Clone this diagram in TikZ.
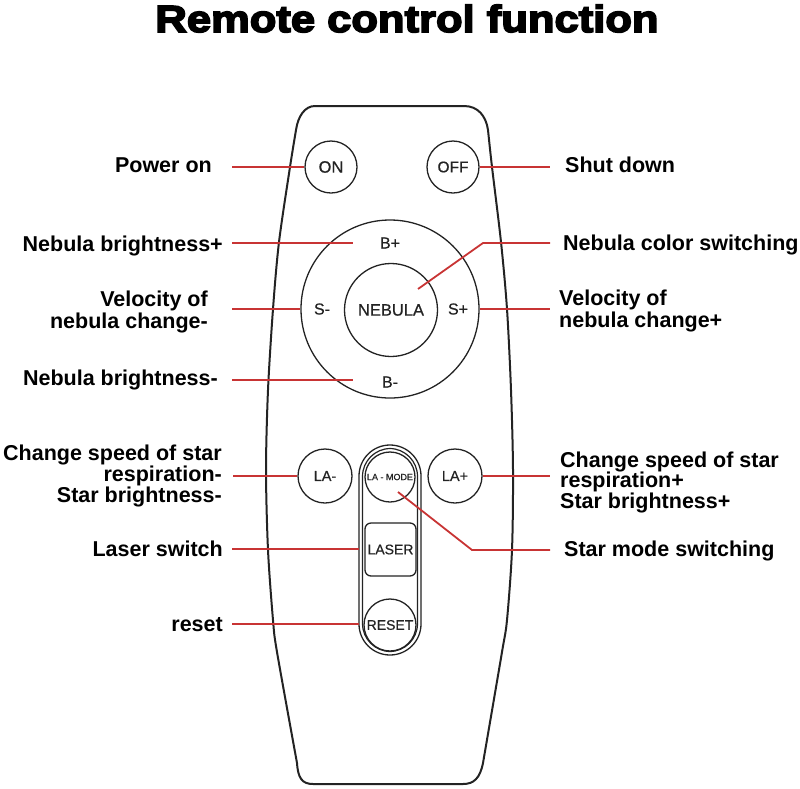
\documentclass[tikz,border=0pt]{standalone}
\usepackage{fontspec}
\setmainfont{Liberation Sans}
\newfontfamily\titlefont[FakeStretch=1.155,FakeBold=4.5]{Liberation Sans Bold}
\newfontfamily\btnfont[FakeBold=0.6]{Liberation Sans}
\definecolor{lnred}{RGB}{200,52,52}
\definecolor{ink}{RGB}{35,35,35}
\begin{document}
\begin{tikzpicture}[x=1pt,y=-1pt,
  lbl/.style={font=\fontsize{21.5}{21.5}\selectfont\bfseries, inner sep=0pt},
  btn/.style={draw=ink, circle, line width=1.3pt, inner sep=0pt, text=ink, font=\btnfont\fontsize{15.5}{16}\selectfont},
  btxt/.style={inner sep=0pt, text=ink, font=\btnfont\fontsize{16}{16}\selectfont},
  redln/.style={draw=lnred, line width=1.8pt},
  bodyln/.style={draw=ink, line width=2pt}]
\useasboundingbox (0,0) rectangle (800,788);
% title
\node[inner sep=0pt, anchor=base, font=\titlefont\fontsize{37.7}{38}\selectfont] (title) at (407,32) {Remote control function};
% body
\draw[bodyln] (315,106) -- (464,106) .. controls (478,106) and (486,116) .. (488,130)
  -- plot[smooth] coordinates {(488,130) (492,167) (501,242) (507,309) (511,390) (513,470) (512,550) (507,620) (502,652) (483,763)}
  .. controls (480,778) and (474,784) .. (463,784) -- (313,784)
  .. controls (302,784) and (298,778) .. (297,763)
  -- plot[smooth] coordinates {(297,763) (277,652) (273,620) (268,550) (266,470) (268,390) (273,309) (279,242) (290,167) (296,130)}
  .. controls (298,116) and (305,106) .. (315,106) -- cycle;
% buttons top
\node[btn, minimum size=52pt, font=\btnfont\fontsize{16.5}{17}\selectfont] (on) at (331,167) {ON};
\node[btn, minimum size=52pt] (off) at (453,167) {OFF};
% nebula ring
\node[btn, minimum size=178pt] (ring) at (390,309) {};
\node[btn, minimum size=93pt, font=\btnfont\fontsize{16.5}{17}\selectfont] (neb) at (391,310) {NEBULA};
\node[btxt] (bp) at (390,243) {B+};
\node[btxt] (bm) at (390,382) {B-};
\node[btxt] (sm) at (322,309) {S-};
\node[btxt] (sp) at (458,309) {S+};
% lower buttons
\node[btn, minimum size=54pt, font=\btnfont\fontsize{14.5}{15}\selectfont] (lam) at (325,476) {LA-};
\node[btn, minimum size=54pt, font=\btnfont\fontsize{14.5}{15}\selectfont] (lap) at (455,476) {LA+};
\draw[draw=ink, line width=1.3pt, rounded corners=31pt] (359,445) rectangle (421,655);
\draw[draw=ink, line width=1.2pt, rounded corners=28pt] (362.5,448.5) rectangle (417.5,651.5);
\node[btn, minimum size=50pt, font=\btnfont\fontsize{9}{9}\selectfont] (mode) at (390,477) {LA - MODE};
\node[draw=ink, line width=1.3pt, rounded corners=6pt, minimum width=51pt, minimum height=53pt, inner sep=0pt, text=ink, font=\btnfont\fontsize{14}{14}\selectfont] (laser) at (390.5,549.5) {LASER};
\node[btn, minimum size=52pt, font=\btnfont\fontsize{14}{14}\selectfont] (reset) at (390,625) {RESET};
% left labels
\node[lbl, anchor=base east] (lpon) at (212,172) {Power on};
\node[lbl, anchor=base east] (lbp) at (223,251) {Nebula brightness+};
\node[lbl, anchor=base east] (lvm1) at (208,306) {Velocity of};
\node[lbl, anchor=base east] (lvm2) at (208,328) {nebula change-};
\node[lbl, anchor=base east] (lbm) at (218,385) {Nebula brightness-};
\node[lbl, anchor=base east] (llam1) at (222,460) {Change speed of star};
\node[lbl, anchor=base east] (llam2) at (222,481) {respiration-};
\node[lbl, anchor=base east] (llam3) at (222,502) {Star brightness-};
\node[lbl, anchor=base east] (llas) at (223,556) {Laser switch};
\node[lbl, anchor=base east] (lres) at (223,631) {reset};
% right labels
\node[lbl, anchor=base west] (rsd) at (565,172) {Shut down};
\node[lbl, anchor=base west] (rcol) at (563,250) {Nebula color switching};
\node[lbl, anchor=base west] (rvp1) at (559,305) {Velocity of};
\node[lbl, anchor=base west] (rvp2) at (559,327) {nebula change+};
\node[lbl, anchor=base west] (rlap1) at (560,467) {Change speed of star};
\node[lbl, anchor=base west] (rlap2) at (560,487) {respiration+};
\node[lbl, anchor=base west] (rlap3) at (560,508) {Star brightness+};
\node[lbl, anchor=base west] (rmode) at (564,556) {Star mode switching};
% connector ends
\coordinate (cpon) at (232,167);
\coordinate (cbp) at (232,243);
\coordinate (cbpe) at (353,243);
\coordinate (cvm) at (232,309);
\coordinate (cbm) at (232,380);
\coordinate (cbme) at (353,380);
\coordinate (clam) at (233,476);
\coordinate (clas) at (232,549);
\coordinate (clase) at (359,549);
\coordinate (cres) at (232,624);
\coordinate (crese) at (359,624);
\coordinate (csd) at (550,167);
\coordinate (ccol) at (550,243);
\coordinate (ccolk) at (483,243);
\coordinate (ccols) at (418,289);
\coordinate (cvp) at (550,309);
\coordinate (clap) at (550,476);
\coordinate (cmode) at (550,550);
\coordinate (cmodek) at (472,550);
\coordinate (cmodes) at (398,492);
% connectors
\draw[redln] (cpon) -- (on.west);
\draw[redln] (cbp) -- (cbpe);
\draw[redln] (cvm) -- (ring.west);
\draw[redln] (cbm) -- (cbme);
\draw[redln] (clam) -- (lam.west);
\draw[redln] (clas) -- (clase);
\draw[redln] (cres) -- (crese);
\draw[redln] (off.east) -- (csd);
\draw[redln] (ccols) -- (ccolk) -- (ccol);
\draw[redln] (ring.east) -- (cvp);
\draw[redln] (lap.east) -- (clap);
\draw[redln] (cmodes) -- (cmodek) -- (cmode);
\end{tikzpicture}
\end{document}
